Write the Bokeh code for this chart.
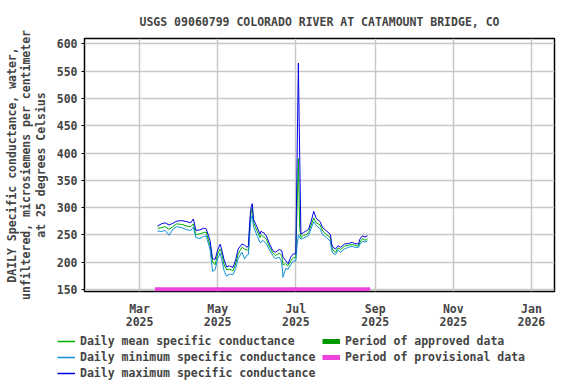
from datetime import datetime
from bokeh.plotting import figure
from bokeh.layouts import column
from bokeh.models import (ColumnDataSource, Legend, LegendItem, FixedTicker, Range1d)
from bokeh.embed import file_html
from bokeh.resources import INLINE

title = "USGS 09060799 COLORADO RIVER AT CATAMOUNT BRIDGE, CO"
ylabel = "DAILY Specific conductance, water,\nunfiltered, microsiemens per centimeter\nat 25 degrees Celsius"

dates = ["2025-03-15", "2025-03-18", "2025-03-21", "2025-03-24", "2025-03-27", "2025-03-30",
         "2025-04-03", "2025-04-07", "2025-04-10", "2025-04-12", "2025-04-14", "2025-04-17",
         "2025-04-20", "2025-04-22", "2025-04-25", "2025-04-27", "2025-04-29", "2025-05-01",
         "2025-05-03", "2025-05-04", "2025-05-06", "2025-05-08", "2025-05-10", "2025-05-13",
         "2025-05-15", "2025-05-17", "2025-05-20", "2025-05-22", "2025-05-24", "2025-05-25",
         "2025-05-26", "2025-05-27", "2025-05-28", "2025-05-29", "2025-06-01", "2025-06-03",
         "2025-06-04", "2025-06-05", "2025-06-06", "2025-06-08", "2025-06-10", "2025-06-13",
         "2025-06-15", "2025-06-18", "2025-06-20", "2025-06-21", "2025-06-23", "2025-06-25",
         "2025-06-27", "2025-06-29", "2025-07-01", "2025-07-02", "2025-07-03", "2025-07-04",
         "2025-07-05", "2025-07-07", "2025-07-09", "2025-07-11", "2025-07-13", "2025-07-15",
         "2025-07-17", "2025-07-20", "2025-07-22", "2025-07-25", "2025-07-28", "2025-07-29",
         "2025-07-30", "2025-08-01", "2025-08-03", "2025-08-05", "2025-08-08", "2025-08-11",
         "2025-08-14", "2025-08-16", "2025-08-19", "2025-08-20", "2025-08-22", "2025-08-24",
         "2025-08-26"]

daily_max = [266, 270, 272, 268, 271, 275,
             276, 274, 272, 279, 258, 259,
             262, 261, 240, 206, 205, 222,
             233, 224, 204, 191, 193, 190,
             204, 224, 233, 231, 227, 230,
             275, 300, 307, 278, 263, 251,
             257, 254, 254, 248, 236, 221,
             218, 223, 221, 209, 203, 197,
             209, 215, 215, 390, 565, 398,
             251, 254, 257, 260, 275, 293,
             280, 274, 263, 257, 251, 233,
             227, 224, 230, 227, 233, 234,
             236, 234, 233, 242, 248, 246,
             248]

daily_mean = [262, 263, 265, 260, 265, 270,
              269, 266, 265, 270, 250, 252,
              254, 255, 231, 200, 195, 215,
              224, 218, 195, 186, 187, 184,
              196, 215, 227, 224, 222, 222,
              262, 290, 299, 272, 256, 245,
              250, 247, 246, 242, 230, 217,
              212, 216, 212, 195, 197, 193,
              202, 208, 208, 300, 390, 262,
              245, 249, 250, 254, 268, 281,
              272, 268, 257, 250, 245, 228,
              222, 218, 226, 223, 229, 231,
              232, 231, 229, 236, 243, 240,
              243]

daily_min = [257, 256, 258, 249, 260, 265,
             263, 259, 258, 264, 245, 243,
             247, 248, 224, 183, 186, 206,
             217, 206, 184, 174, 178, 177,
             188, 207, 218, 206, 213, 214,
             250, 280, 285, 265, 247, 236,
             236, 240, 238, 234, 224, 212,
             206, 209, 200, 172, 188, 187,
             195, 202, 202, 230, 250, 245,
             242, 244, 246, 249, 262, 274,
             267, 261, 250, 245, 238, 222,
             216, 214, 222, 218, 224, 227,
             229, 227, 227, 232, 238, 237,
             239]

provisional_period = ["2025-03-13", "2025-08-28"]
provisional_level = [150, 150]

xtick_dates = ["2025-03-01", "2025-05-01", "2025-07-01", "2025-09-01", "2025-11-01", "2026-01-01"]
xtick_labels = ["Mar\n2025", "May\n2025", "Jul\n2025", "Sep\n2025", "Nov\n2025", "Jan\n2026"]
yticks = [150, 200, 250, 300, 350, 400, 450, 500, 550, 600]

FONT = "DejaVu Sans Mono"
FS = "11.5px"

C_MEAN = "#00b000"
C_MIN = "#1090d8"
C_MAX = "#0000e8"
C_APPR = "#009900"
C_PROV = "#ee44dd"

def dt(s):
    return datetime.strptime(s, "%Y-%m-%d")

def ms(s):
    return (dt(s) - datetime(1970, 1, 1)).total_seconds() * 1000.0

src = ColumnDataSource(dict(x=[dt(d) for d in dates], mx=daily_max, mn=daily_mean, lo=daily_min))

p = figure(width=576, height=332, x_axis_type="datetime", output_backend="svg",
           toolbar_location=None,
           x_range=Range1d(dt("2025-01-17"), dt("2026-01-19")),
           y_range=Range1d(146, 610),
           min_border_left=84, min_border_right=22, min_border_top=38, min_border_bottom=36)
p.frame_align = False

p.title.text = title
p.title.text_font = FONT
p.title.text_font_size = FS
p.title.text_font_style = "bold"
p.title.align = "center"
p.title.standoff = 19

p.outline_line_color = "black"
p.outline_line_width = 1.5
p.background_fill_color = "white"
p.border_fill_color = "white"

p.grid.grid_line_color = "#c8c8c8"
p.grid.grid_line_width = 1.5

l_mean = p.line("x", "mn", source=src, line_color=C_MEAN, line_width=1)
l_min = p.line("x", "lo", source=src, line_color=C_MIN, line_width=1)
l_max = p.line("x", "mx", source=src, line_color=C_MAX, line_width=1)
prov = p.line([dt(d) for d in provisional_period], provisional_level, line_color=C_PROV, line_width=4)

p.xaxis.ticker = FixedTicker(ticks=[ms(d) for d in xtick_dates])
p.xaxis.major_label_overrides = {ms(d): lab for d, lab in zip(xtick_dates, xtick_labels)}
p.xgrid.ticker = FixedTicker(ticks=[ms(d) for d in xtick_dates])
p.yaxis.ticker = FixedTicker(ticks=yticks)
p.ygrid.ticker = FixedTicker(ticks=yticks)
p.yaxis.axis_label = ylabel

for ax in (p.xaxis[0], p.yaxis[0]):
    ax.axis_line_color = None
    ax.major_tick_in = 0
    ax.major_tick_out = 3
    ax.minor_tick_out = 0
    ax.minor_tick_in = 0
    ax.major_label_text_font = FONT
    ax.major_label_text_font_size = FS
    ax.major_label_text_font_style = "bold"
    ax.major_label_text_line_height = 0.97
    ax.axis_label_text_font = FONT
    ax.axis_label_text_font_size = FS
    ax.axis_label_text_font_style = "bold"
    ax.axis_label_text_line_height = 1.02
p.xaxis.major_tick_out = 0
p.yaxis.major_label_standoff = 4
p.yaxis.axis_label_standoff = 6
p.xaxis.major_label_standoff = 10

# legend figure
lg = figure(width=576, height=52, output_backend="svg", toolbar_location=None,
            x_range=Range1d(0, 1), y_range=Range1d(0, 1),
            min_border_left=0, min_border_right=0, min_border_top=0, min_border_bottom=0)
lg.frame_align = False
lg.axis.visible = False
lg.grid.visible = False
lg.outline_line_color = None
lg.background_fill_color = "white"
lg.border_fill_color = "white"

nan = float("nan")
g_mean = lg.line([nan], [nan], line_color=C_MEAN, line_width=1.5)
g_min = lg.line([nan], [nan], line_color=C_MIN, line_width=1.5)
g_max = lg.line([nan], [nan], line_color=C_MAX, line_width=1.5)
g_appr = lg.line([nan], [nan], line_color=C_APPR, line_width=5)
g_prov = lg.line([nan], [nan], line_color=C_PROV, line_width=5)

leg1 = Legend(items=[
    LegendItem(label="Daily mean specific conductance", renderers=[g_mean]),
    LegendItem(label="Daily minimum specific conductance", renderers=[g_min]),
    LegendItem(label="Daily maximum specific conductance", renderers=[g_max]),
], location=(57, 3))
leg2 = Legend(items=[
    LegendItem(label="Period of approved data", renderers=[g_appr]),
    LegendItem(label="Period of provisional data", renderers=[g_prov]),
], location=(322, 19))
for legend in (leg1, leg2):
    legend.label_text_font = FONT
    legend.label_text_font_size = FS
    legend.label_text_font_style = "bold"
    legend.border_line_color = None
    legend.background_fill_alpha = 0
    legend.glyph_width = 18
    legend.glyph_height = 12
    legend.label_height = 16
    legend.spacing = 0
    legend.padding = 0
    legend.margin = 0
    legend.label_standoff = 5
    lg.add_layout(legend, "center")

layout = column(p, lg, spacing=0)
open("out.html", "w").write(file_html(layout, INLINE))
